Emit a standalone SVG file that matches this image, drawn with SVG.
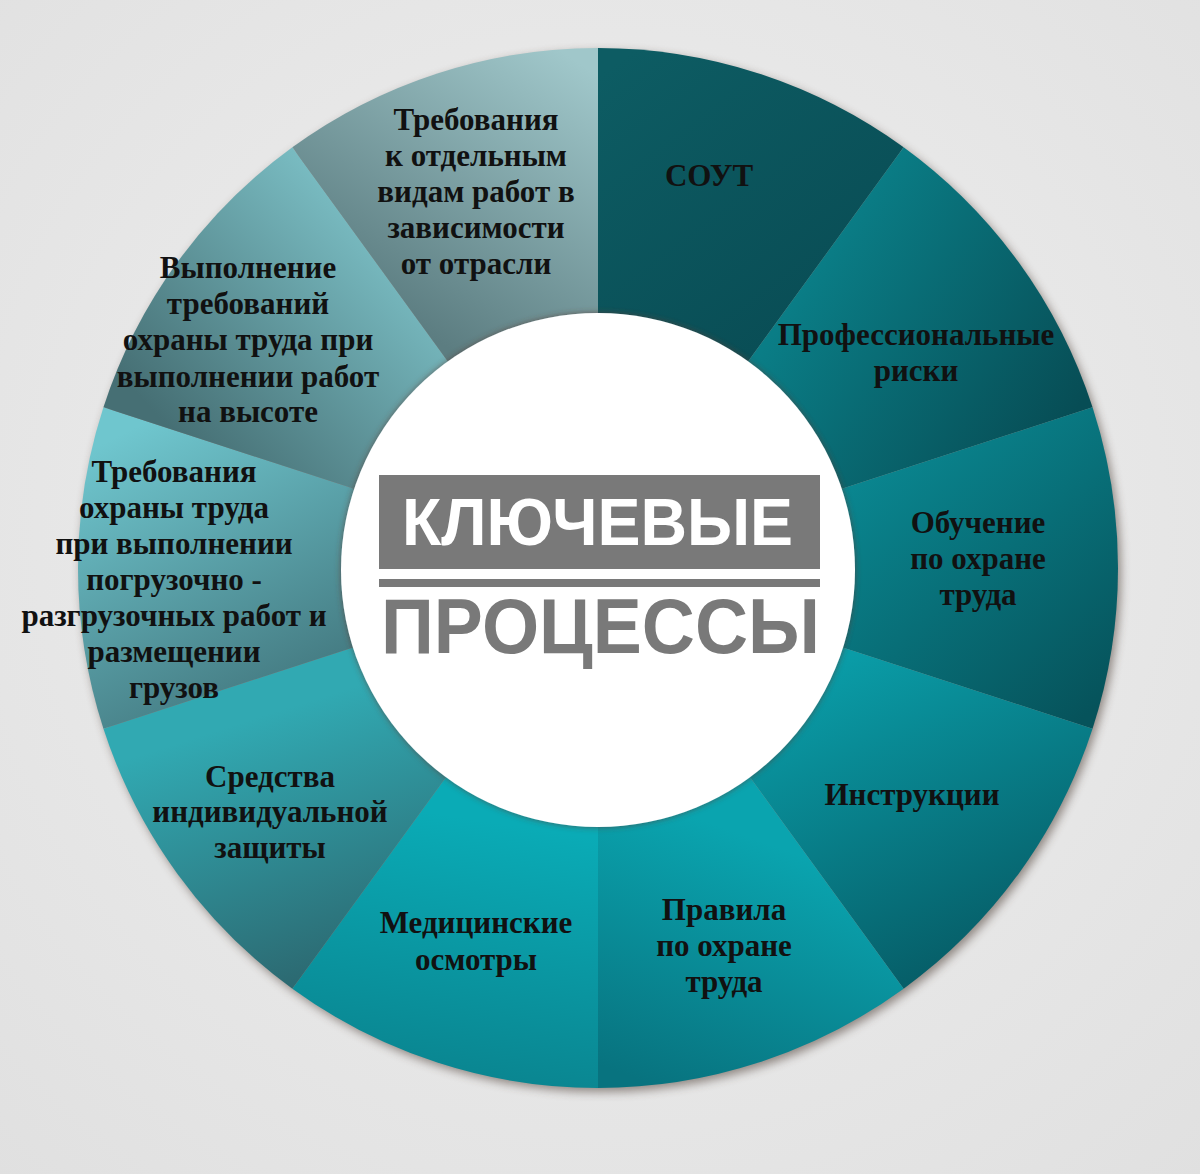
<svg xmlns="http://www.w3.org/2000/svg" width="1200" height="1174" viewBox="0 0 1200 1174">
<defs>
<style>
.lbl{font-family:"Liberation Serif","Times New Roman",serif;font-weight:bold;font-size:31px;fill:#111;text-anchor:middle}
.hd{font-family:"Liberation Sans",Arial,sans-serif;font-weight:bold}
</style>
<radialGradient id="bg" cx="0.5" cy="0.45" r="0.75">
<stop offset="0" stop-color="#f0f0f0"/><stop offset="1" stop-color="#e0e0e0"/>
</radialGradient>
<filter id="blur6" x="-10%" y="-10%" width="120%" height="120%"><feGaussianBlur stdDeviation="5"/></filter>
<filter id="innerSh" x="-10%" y="-10%" width="120%" height="120%"><feDropShadow dx="0" dy="0" stdDeviation="3" flood-color="#5a3a30" flood-opacity="0.7"/></filter>
<linearGradient id="g1" gradientUnits="userSpaceOnUse" x1="620" y1="60" x2="820" y2="330"><stop offset="0" stop-color="#0d5c63"/><stop offset="1" stop-color="#094d55"/></linearGradient>
<linearGradient id="g2" gradientUnits="userSpaceOnUse" x1="820" y1="260" x2="1070" y2="420"><stop offset="0" stop-color="#0a7d86"/><stop offset="1" stop-color="#074d55"/></linearGradient>
<linearGradient id="g3" gradientUnits="userSpaceOnUse" x1="850" y1="450" x2="1080" y2="720"><stop offset="0" stop-color="#0a8a94"/><stop offset="1" stop-color="#06535b"/></linearGradient>
<linearGradient id="g4" gradientUnits="userSpaceOnUse" x1="840" y1="660" x2="980" y2="960"><stop offset="0" stop-color="#0a9ca7"/><stop offset="1" stop-color="#065d67"/></linearGradient>
<linearGradient id="g5" gradientUnits="userSpaceOnUse" x1="730" y1="830" x2="640" y2="1080"><stop offset="0" stop-color="#0aa4af"/><stop offset="1" stop-color="#08737f"/></linearGradient>
<linearGradient id="g6" gradientUnits="userSpaceOnUse" x1="540" y1="830" x2="500" y2="1080"><stop offset="0" stop-color="#0aabb6"/><stop offset="1" stop-color="#0a8691"/></linearGradient>
<linearGradient id="g7" gradientUnits="userSpaceOnUse" x1="250" y1="720" x2="330" y2="970"><stop offset="0" stop-color="#31a9b2"/><stop offset="1" stop-color="#2c6a72"/></linearGradient>
<linearGradient id="g8" gradientUnits="userSpaceOnUse" x1="150" y1="420" x2="300" y2="720"><stop offset="0" stop-color="#6fc6ce"/><stop offset="1" stop-color="#40737a"/></linearGradient>
<linearGradient id="g9" gradientUnits="userSpaceOnUse" x1="400" y1="250" x2="190" y2="450"><stop offset="0" stop-color="#7abdc3"/><stop offset="1" stop-color="#466f74"/></linearGradient>
<linearGradient id="g10" gradientUnits="userSpaceOnUse" x1="590" y1="70" x2="420" y2="330"><stop offset="0" stop-color="#a0c7ca"/><stop offset="1" stop-color="#5c7d81"/></linearGradient>
</defs>
<rect x="0" y="0" width="1200" height="1174" fill="url(#bg)"/>
<circle cx="601" cy="572" r="520" fill="#4a3a32" opacity="0.55" filter="url(#blur6)"/>

<g id="n1">
<path d="M598 568 L598 48 A520 520 0 0 1 903.65 147.31 Z" fill="url(#g1)"/>
<text class="lbl" x="709" y="186">СОУТ</text>
</g>
<g id="n2">
<path d="M598 568 L903.65 147.31 A520 520 0 0 1 1092.55 407.31 Z" fill="url(#g2)"/>
<text class="lbl" x="916" y="345">Профессиональные</text>
<text class="lbl" x="916" y="381">риски</text>
</g>
<g id="n3">
<path d="M598 568 L1092.55 407.31 A520 520 0 0 1 1092.55 728.69 Z" fill="url(#g3)"/>
<text class="lbl" x="978" y="533">Обучение</text>
<text class="lbl" x="978" y="569">по охране</text>
<text class="lbl" x="978" y="605">труда</text>
</g>
<g id="n4">
<path d="M598 568 L1092.55 728.69 A520 520 0 0 1 903.65 988.69 Z" fill="url(#g4)"/>
<text class="lbl" x="912" y="805">Инструкции</text>
</g>
<g id="n5">
<path d="M598 568 L903.65 988.69 A520 520 0 0 1 598 1088 Z" fill="url(#g5)"/>
<text class="lbl" x="724" y="920">Правила</text>
<text class="lbl" x="724" y="956">по охране</text>
<text class="lbl" x="724" y="992">труда</text>
</g>
<g id="n6">
<path d="M598 568 L598 1088 A520 520 0 0 1 292.35 988.69 Z" fill="url(#g6)"/>
<text class="lbl" x="476" y="933">Медицинские</text>
<text class="lbl" x="476" y="970">осмотры</text>
</g>
<g id="n7">
<path d="M598 568 L292.35 988.69 A520 520 0 0 1 103.45 728.69 Z" fill="url(#g7)"/>
<text class="lbl" x="270" y="787">Средства</text>
<text class="lbl" x="270" y="822">индивидуальной</text>
<text class="lbl" x="270" y="858">защиты</text>
</g>
<g id="n8">
<path d="M598 568 L103.45 728.69 A520 520 0 0 1 103.45 407.31 Z" fill="url(#g8)"/>
<text class="lbl" x="174" y="482">Требования</text>
<text class="lbl" x="174" y="518">охраны труда</text>
<text class="lbl" x="174" y="554">при выполнении</text>
<text class="lbl" x="174" y="590">погрузочно -</text>
<text class="lbl" x="174" y="626">разгрузочных работ и</text>
<text class="lbl" x="174" y="662">размещении</text>
<text class="lbl" x="174" y="698">грузов</text>
</g>
<g id="n9">
<path d="M598 568 L103.45 407.31 A520 520 0 0 1 292.35 147.31 Z" fill="url(#g9)"/>
<text class="lbl" x="248" y="278">Выполнение</text>
<text class="lbl" x="248" y="314">требований</text>
<text class="lbl" x="248" y="350">охраны труда при</text>
<text class="lbl" x="248" y="387">выполнении работ</text>
<text class="lbl" x="248" y="422">на высоте</text>
</g>
<g id="n10">
<path d="M598 568 L292.35 147.31 A520 520 0 0 1 598 48 Z" fill="url(#g10)"/>
<text class="lbl" x="476" y="130">Требования</text>
<text class="lbl" x="476" y="166">к отдельным</text>
<text class="lbl" x="476" y="202">видам работ в</text>
<text class="lbl" x="476" y="238">зависимости</text>
<text class="lbl" x="476" y="274">от отрасли</text>
</g>

<g id="center">
<circle cx="598" cy="570" r="257" fill="#ffffff" filter="url(#innerSh)"/>
<rect x="379" y="475" width="441" height="94" fill="#797979"/>
<text class="hd" x="402" y="545" font-size="66" fill="#ffffff" textLength="391" lengthAdjust="spacingAndGlyphs">КЛЮЧЕВЫЕ</text>
<rect x="379" y="579" width="441" height="8" fill="#797979"/>
<text class="hd" x="381" y="653" font-size="78" fill="#797979" textLength="439" lengthAdjust="spacingAndGlyphs">ПРОЦЕССЫ</text>
</g>
<g id="connectors"/>
</svg>
